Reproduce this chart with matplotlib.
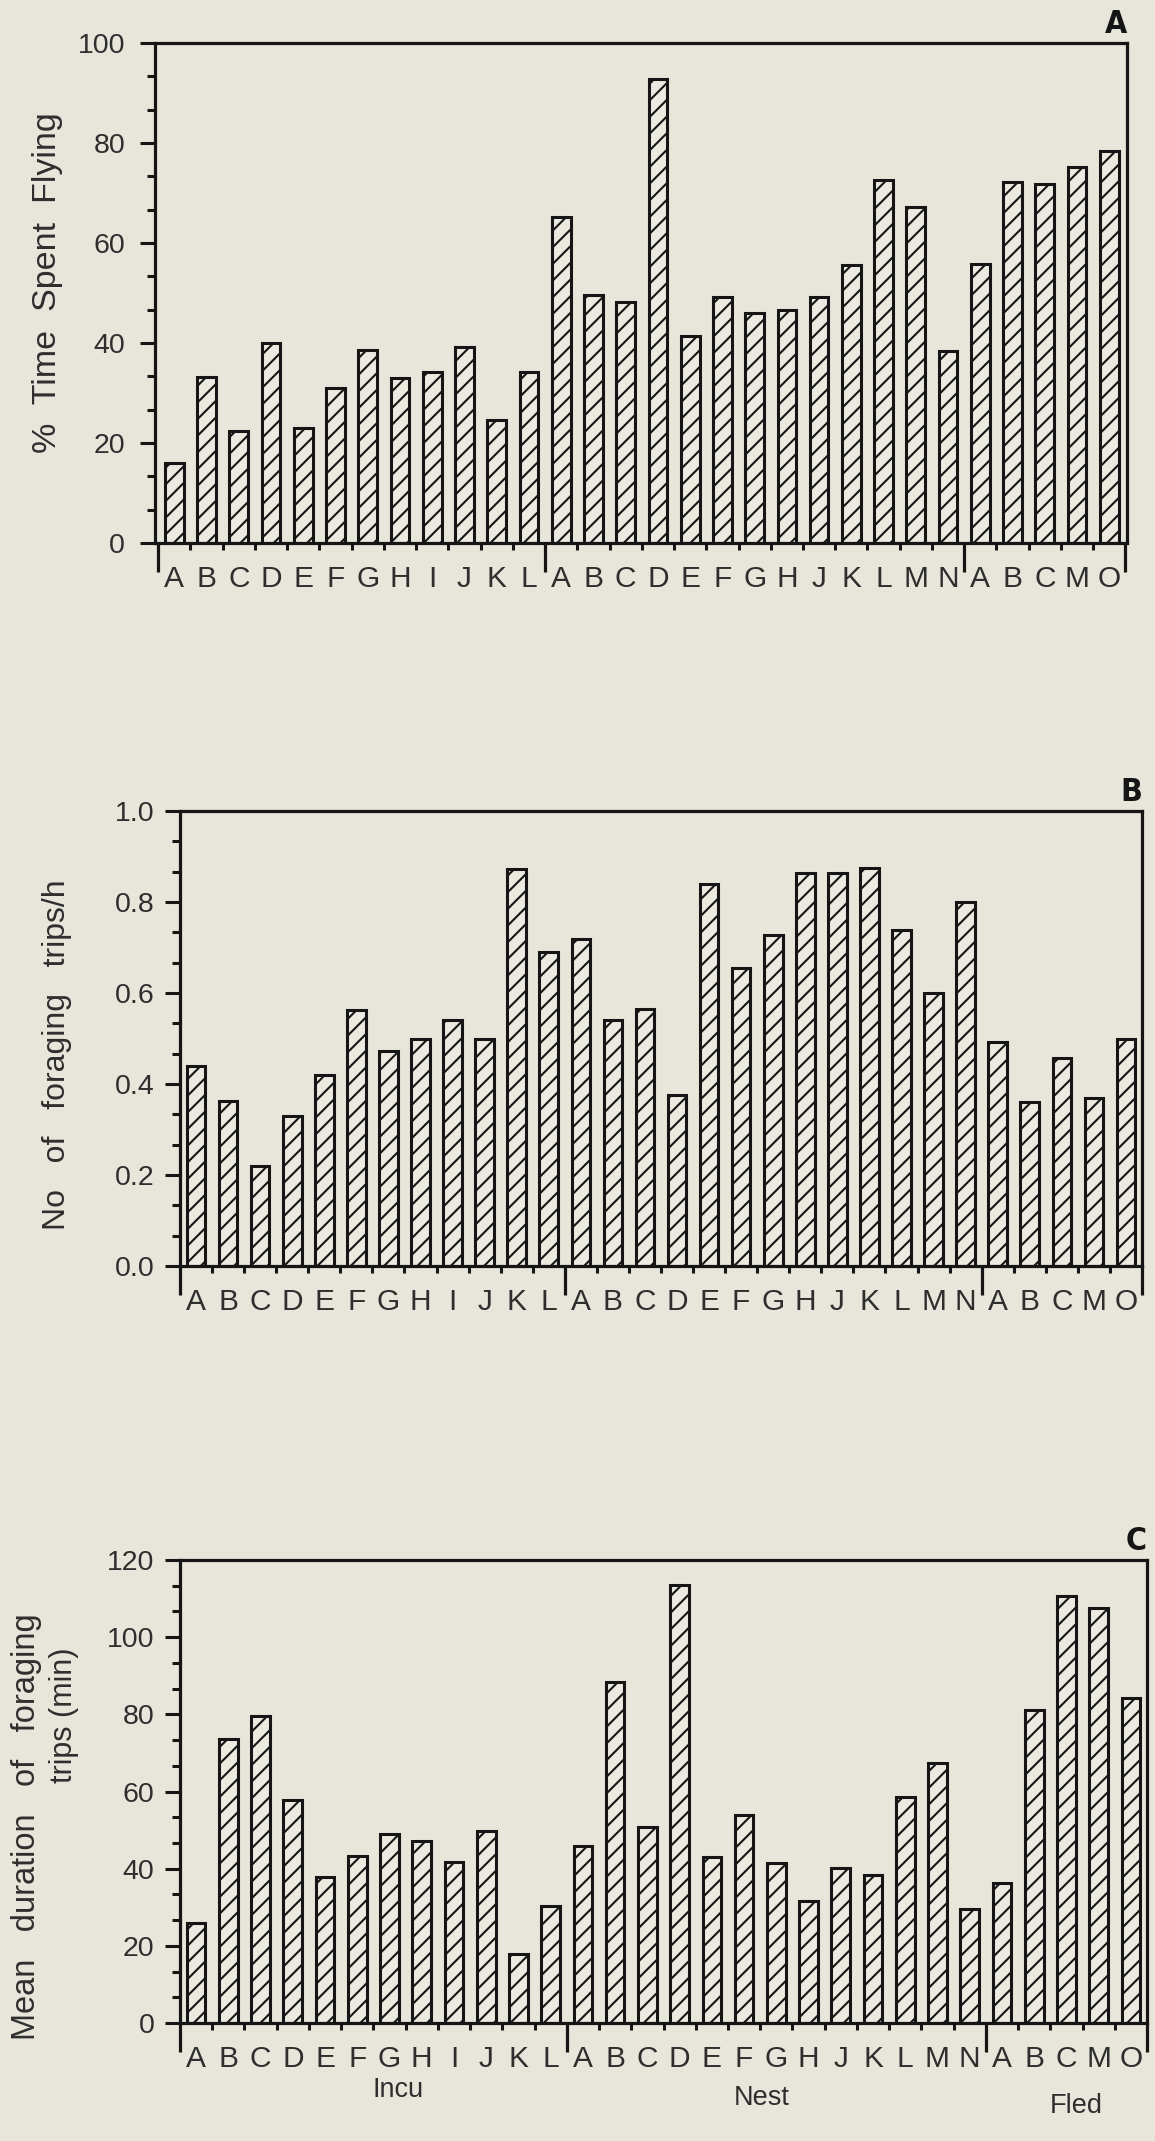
import matplotlib
matplotlib.use("Agg")
import matplotlib.pyplot as plt
from matplotlib.ticker import AutoMinorLocator, FixedLocator, FormatStrFormatter
import numpy as np

# ---------------- data ----------------
incu_labels = list("ABCDEFGHIJKL")
nest_labels = list("ABCDEFGHJKLMN")
fled_labels = list("ABCMO")
group_names = ["Incu", "Nest", "Fled"]

flying_incu = [16.0, 33.1, 22.3, 39.9, 22.9, 31.0, 38.5, 33.0, 34.2, 39.1, 24.6, 34.2]
flying_nest = [65.1, 49.5, 48.2, 92.7, 41.3, 49.1, 45.9, 46.5, 49.1, 55.6, 72.6, 67.1, 38.4]
flying_fled = [55.8, 72.2, 71.8, 75.1, 78.4]

trips_incu = [0.439, 0.363, 0.220, 0.329, 0.420, 0.563, 0.473, 0.500, 0.541, 0.500, 0.873, 0.690]
trips_nest = [0.718, 0.540, 0.565, 0.376, 0.840, 0.656, 0.728, 0.863, 0.863, 0.875, 0.738, 0.601, 0.800]
trips_fled = [0.492, 0.360, 0.458, 0.370, 0.499]

dur_incu = [25.9, 73.7, 79.5, 57.8, 37.8, 43.4, 49.1, 47.3, 41.7, 49.8, 17.8, 30.3]
dur_nest = [45.9, 88.3, 50.7, 113.6, 43.1, 54.0, 41.5, 31.7, 40.1, 38.3, 58.6, 67.4, 29.6]
dur_fled = [36.2, 81.2, 110.7, 107.6, 84.3]

# ---------------- style ----------------
BG = "#E8E6DA"
INK = "#151515"
TXT = "#2e2e2e"
W, H = 1155, 2141
plt.rcParams["font.family"] = ["Liberation Sans", "DejaVu Sans"]
plt.rcParams["hatch.linewidth"] = 1.5
plt.rcParams["hatch.color"] = "#2a2a2a"

fig = plt.figure(figsize=(W / 100, H / 100), dpi=100, facecolor=BG)

labels = incu_labels + nest_labels + fled_labels
n = len(labels)
x = np.arange(n)
b1 = len(incu_labels) - 0.5
b2 = len(incu_labels) + len(nest_labels) - 0.5
boundaries = [-0.5, b1, b2, n - 0.5]
short_ticks = [i + 0.5 for i in range(n - 1) if (i + 0.5) not in boundaries]


def px_rect(left, right, top, bottom):
    return [left / W, 1 - bottom / H, (right - left) / W, (bottom - top) / H]


def make_panel(rect, values, ylim, major_step, xlim, fmt, ylab_pad, letter):
    ax = fig.add_axes(rect)
    ax.set_facecolor(BG)
    ax.bar(x, values, width=0.58, color="#ECEAE0", edgecolor=INK,
           linewidth=2.2, hatch="//", zorder=2)
    ax.set_xlim(*xlim)
    ax.set_ylim(*ylim)
    for s in ax.spines.values():
        s.set_linewidth(2.3)
        s.set_color(INK)
    # y ticks
    ax.set_yticks(np.arange(ylim[0], ylim[1] + major_step / 2, major_step))
    ax.yaxis.set_major_formatter(FormatStrFormatter(fmt))
    ax.yaxis.set_minor_locator(AutoMinorLocator(3))
    ax.tick_params(axis="y", which="major", direction="out", length=10.5,
                   width=2.2, labelsize=20.5, pad=ylab_pad, colors=INK,
                   labelcolor=TXT)
    ax.tick_params(axis="y", which="minor", direction="out", length=6,
                   width=2.2, colors=INK)
    # x ticks: labels at bar centres, short ticks between bars
    ax.set_xticks(x)
    ax.set_xticklabels(labels)
    ax.xaxis.set_minor_locator(FixedLocator(short_ticks))
    ax.tick_params(axis="x", which="major", length=0, labelsize=21.5, pad=15.5,
                   labelcolor=TXT)
    ax.tick_params(axis="x", which="minor", direction="out", length=5,
                   width=2.2, colors=INK)
    # long group separator ticks
    sec = ax.secondary_xaxis("bottom")
    sec.set_xticks(boundaries)
    sec.set_xticklabels([])
    sec.tick_params(axis="x", which="major", direction="out", length=21,
                    width=2.3, colors=INK)
    sec.tick_params(axis="x", which="minor", length=0)
    sec.spines["bottom"].set_visible(False)
    # panel letter
    ax.text(1.0, 1.006, letter, transform=ax.transAxes, ha="right", va="bottom",
            fontsize=23, fontweight="bold", color=INK, fontstretch="condensed",
            family=["Liberation Sans Narrow", "DejaVu Sans"])
    return ax


axA = make_panel(px_rect(155, 1127, 43, 543), flying_incu + flying_nest + flying_fled,
                 (0, 100), 20, (-0.6, n - 0.45), "%d", 11, "A")
axB = make_panel(px_rect(180, 1142, 811, 1266), trips_incu + trips_nest + trips_fled,
                 (0, 1.0), 0.2, (-0.5, n - 0.5), "%.1f", 8, "B")
axC = make_panel(px_rect(180, 1147, 1560, 2023), dur_incu + dur_nest + dur_fled,
                 (0, 120), 20, (-0.5, n - 0.5), "%d", 8, "C")


def ftext(px, py, s, **kw):
    fig.text(px / W, 1 - py / H, s, **kw)


ftext(48, 283, "%  Time  Spent  Flying", rotation=90, ha="center", va="center",
      fontsize=24.5, color=TXT)
ftext(57, 1055, "No   of   foraging   trips/h", rotation=90, ha="center",
      va="center", fontsize=23, color=TXT)
ftext(27, 1827, "Mean   duration   of   foraging", rotation=90, ha="center",
      va="center", fontsize=23.5, color=TXT)
ftext(64, 1715, "trips (min)", rotation=90, ha="center", va="center",
      fontsize=22, color=TXT)

ftext(398, 2090, group_names[0], ha="center", va="center", fontsize=19.5, color=TXT)
ftext(762, 2098, group_names[1], ha="center", va="center", fontsize=19.5, color=TXT)
ftext(1076, 2106, group_names[2], ha="center", va="center", fontsize=19.5, color=TXT)

fig.savefig("out.png", dpi=100, facecolor=BG)
